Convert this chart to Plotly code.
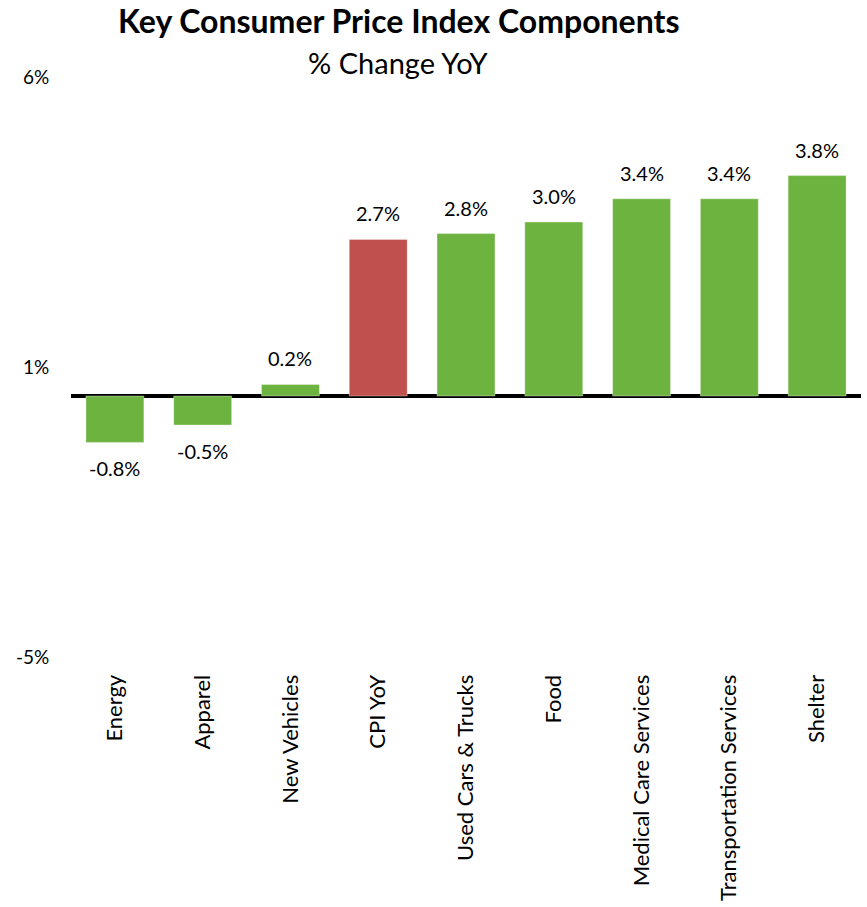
import plotly.graph_objects as go

categories = ["Energy", "Apparel", "New Vehicles", "CPI YoY", "Used Cars & Trucks",
              "Food", "Medical Care Services", "Transportation Services", "Shelter"]
values = [-0.8, -0.5, 0.2, 2.7, 2.8, 3.0, 3.4, 3.4, 3.8]
highlight = "CPI YoY"

tick_vals = [-4.5, 0.5, 5.5]
tick_text = ["-5%", "1%", "6%"]

GREEN = "#6DB33F"
RED = "#C0504D"
FONT = "Lato"

colors = [RED if c == highlight else GREEN for c in categories]

fig = go.Figure()
fig.add_trace(go.Bar(
    x=categories,
    y=values,
    marker=dict(color=colors, line=dict(color="rgba(255,255,255,0.35)", width=1)),
    width=0.66,
    hoverinfo="x+y",
))

# value labels above positive bars / below negative bars
for c, v in zip(categories, values):
    fig.add_annotation(
        x=c, y=v, xref="x", yref="y",
        text=f"{v:.1f}%",
        showarrow=False,
        yanchor="bottom" if v >= 0 else "top",
        yshift=12 if v >= 0 else -12,
        font=dict(family=FONT, size=20, color="#000000"),
    )

# title and subtitle, placed above the plot area
TITLE_X = 0.414
fig.add_annotation(
    x=TITLE_X, y=1, xref="paper", yref="paper", showarrow=False,
    text="<b>Key Consumer Price Index Components</b>",
    font=dict(family=FONT, size=32, color="#000000"),
    yanchor="middle", yshift=57,
)
fig.add_annotation(
    x=TITLE_X, y=1, xref="paper", yref="paper", showarrow=False,
    text="% Change YoY",
    font=dict(family=FONT, size=29, color="#000000"),
    yanchor="middle", yshift=15,
)

fig.update_layout(
    width=867, height=907,
    margin=dict(l=71, r=6, t=77, b=245),
    paper_bgcolor="white", plot_bgcolor="white",
    showlegend=False,
    font=dict(family=FONT, color="#000000"),
    xaxis=dict(
        showgrid=False, zeroline=False, showline=False,
        tickangle=-90,
        tickfont=dict(family=FONT, size=22, color="#000000"),
        ticks="outside", ticklen=8, tickcolor="rgba(0,0,0,0)",
    ),
    yaxis=dict(
        range=[-4.5, 5.5],
        tickvals=tick_vals, ticktext=tick_text,
        showgrid=False, showline=False,
        zeroline=True, zerolinecolor="#000000", zerolinewidth=3.5,
        tickfont=dict(family=FONT, size=19, color="#000000"),
        ticks="outside", ticklen=17, tickcolor="rgba(0,0,0,0)",
    ),
)

fig.write_html("out.html")
